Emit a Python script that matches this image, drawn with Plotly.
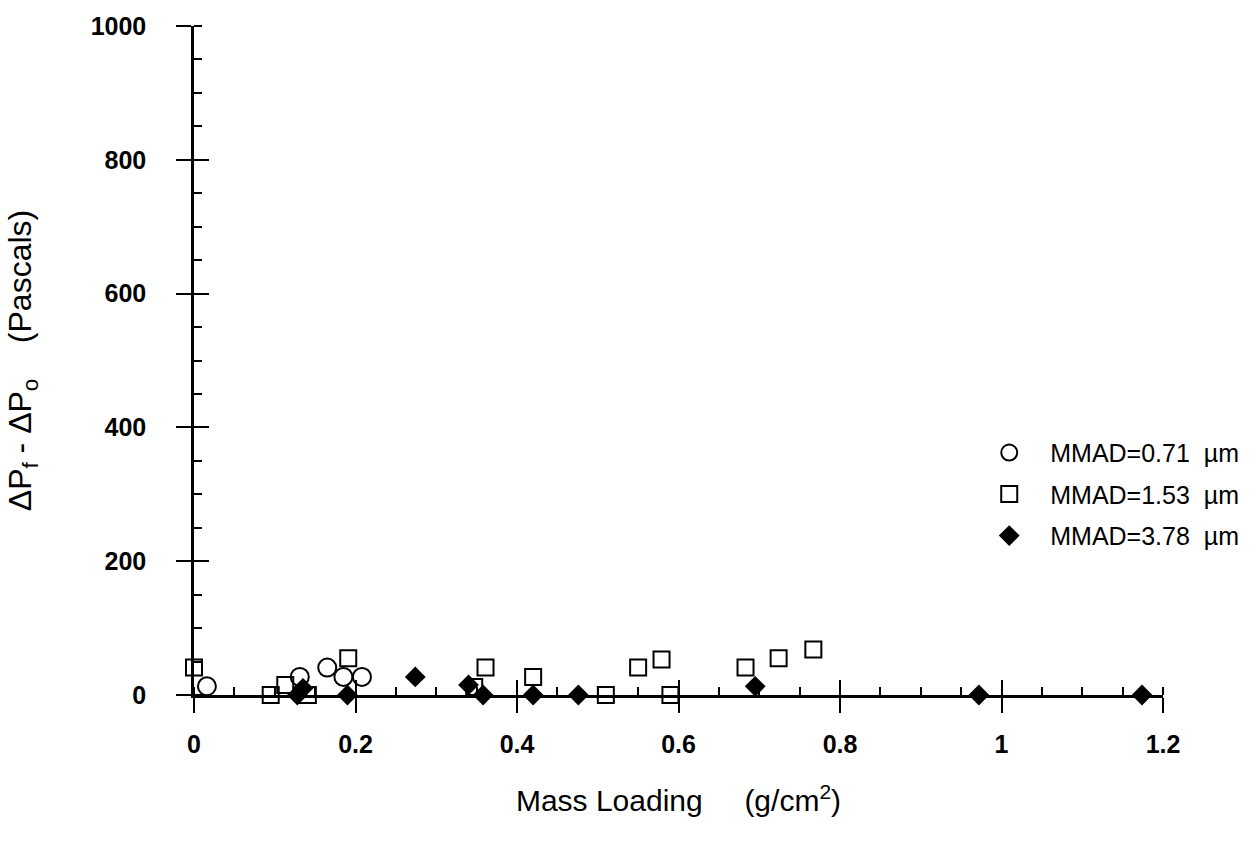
import plotly.graph_objects as go

# Data
x_071 = [0.016, 0.131, 0.165, 0.185, 0.208]
y_071 = [13, 27, 41, 27, 27]

x_153 = [0.0, 0.095, 0.113, 0.141, 0.191, 0.347, 0.361, 0.42, 0.51, 0.55, 0.579, 0.59, 0.683, 0.724, 0.767]
y_153 = [41, 0, 15, 0, 55, 12, 41, 27, 0, 41, 53, 0, 41, 55, 68]

x_378 = [0.128, 0.135, 0.19, 0.274, 0.34, 0.358, 0.42, 0.476, 0.695, 0.972, 1.174]
y_378 = [0, 10, 0, 27, 15, 0, 0, 0, 13, 0, 0]

x_ticks = [0, 0.2, 0.4, 0.6, 0.8, 1.0, 1.2]
x_ticklabels = ["0", "0.2", "0.4", "0.6", "0.8", "1", "1.2"]
y_ticks = [0, 200, 400, 600, 800, 1000]
y_ticklabels = ["0", "200", "400", "600", "800", "1000"]

FONT = "Liberation Sans, Arial, sans-serif"

fig = go.Figure()
fig.add_trace(go.Scatter(
    x=x_071, y=y_071, mode="markers", name="MMAD=0.71  \u00b5m", legendgroup="a",
    marker=dict(symbol="circle-open", size=18, color="black", line=dict(width=2, color="black")),
    cliponaxis=False))
fig.add_trace(go.Scatter(
    x=x_153, y=y_153, mode="markers", name="MMAD=1.53  \u00b5m", legendgroup="b",
    marker=dict(symbol="square-open", size=16, color="black", line=dict(width=2, color="black")),
    cliponaxis=False))
fig.add_trace(go.Scatter(
    x=x_378, y=y_378, mode="markers", name="MMAD=3.78  \u00b5m", legendgroup="c",
    marker=dict(symbol="diamond", size=16, color="black", line=dict(width=0)),
    cliponaxis=False))
# empty traces to hold the overlay axes (inside halves of the crossing major ticks)
fig.add_trace(go.Scatter(x=[], y=[], xaxis="x2", yaxis="y", showlegend=False))
fig.add_trace(go.Scatter(x=[], y=[], xaxis="x", yaxis="y2", showlegend=False))

fig.update_layout(
    width=1257, height=847,
    margin=dict(l=194, r=94, t=18, b=152),
    paper_bgcolor="white", plot_bgcolor="white",
    font=dict(family=FONT, color="black"),
    showlegend=True,
    legend=dict(x=0.799, y=0.30, xanchor="left", yanchor="middle",
                font=dict(size=25, family=FONT, color="black"),
                traceorder="grouped", tracegroupgap=6,
                itemwidth=72, bgcolor="rgba(0,0,0,0)", borderwidth=0),
    xaxis=dict(range=[0, 1.2], tickvals=x_ticks, ticktext=x_ticklabels,
               ticks="outside", ticklen=15, tickwidth=2, tickcolor="black",
               showline=True, linewidth=2.5, linecolor="black",
               showgrid=False, zeroline=False,
               tickfont=dict(size=25, family=FONT, weight="bold"),
               ticklabelstandoff=10,
               minor=dict(ticks="inside", ticklen=8, tickwidth=1.5, dtick=0.05, tick0=0,
                          tickcolor="black", showgrid=False),
               title=dict(text="Mass Loading     (g/cm<sup>2</sup>)", font=dict(size=30, family=FONT),
                          standoff=34)),
    xaxis2=dict(range=[0, 1.2], overlaying="x", anchor="y", side="bottom",
                tickvals=x_ticks, ticks="inside", ticklen=15, tickwidth=2, tickcolor="black",
                showticklabels=False, showline=False, showgrid=False, zeroline=False),
    yaxis=dict(range=[0, 1000], tickvals=y_ticks, ticktext=y_ticklabels,
               ticks="outside", ticklen=15, tickwidth=2, tickcolor="black",
               showline=True, linewidth=2.5, linecolor="black",
               showgrid=False, zeroline=False,
               tickfont=dict(size=25, family=FONT, weight="bold"),
               ticklabelstandoff=25,
               minor=dict(ticks="inside", ticklen=8, tickwidth=1.5, dtick=50, tick0=0,
                          tickcolor="black", showgrid=False),
               title=dict(text="\u0394P<sub>f</sub> - \u0394P<sub>o</sub>    (Pascals)",
                          font=dict(size=32, family=FONT), standoff=50)),
    yaxis2=dict(range=[0, 1000], overlaying="y", anchor="x", side="left",
                tickvals=y_ticks, ticks="inside", ticklen=15, tickwidth=2, tickcolor="black",
                showticklabels=False, showline=False, showgrid=False, zeroline=False),
)

fig.write_html("out.html")
